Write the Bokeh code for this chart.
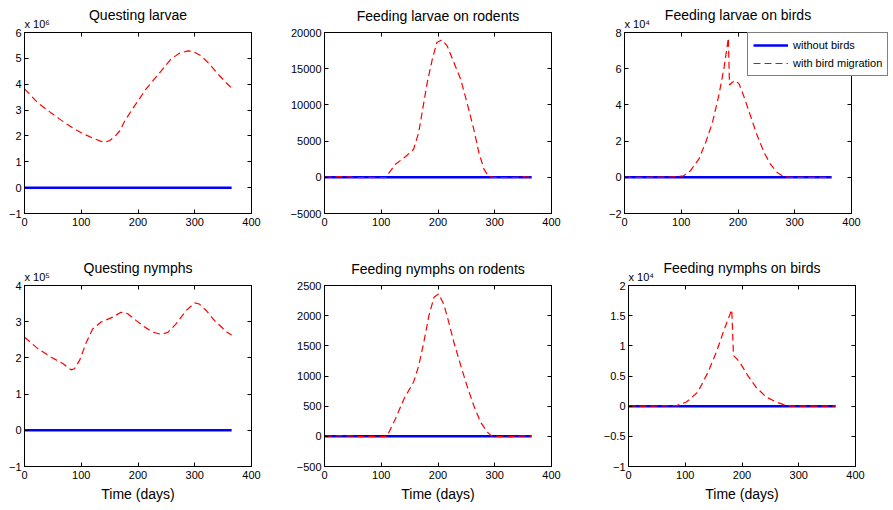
from bokeh.plotting import figure
from bokeh.layouts import column, row
from bokeh.models import (Range1d, LinearAxis, FixedTicker, Legend, LegendItem, Title,
                          CustomLabelingPolicy)
from bokeh.embed import file_html
from bokeh.resources import INLINE

FONT = "Liberation Sans"

# ---------------- data ----------------
x_ticks = [0, 100, 200, 300, 400]

blue_days = [0, 365]
blue_vals = [0, 0]

# Questing larvae (x 10^6)
ql_days = [0, 23, 44, 62, 80, 100, 120, 135, 142, 150, 160, 168, 176, 188, 202, 214, 226, 241, 258, 273, 288, 297, 311, 326, 341, 358, 365]
ql_vals = [3.82, 3.29, 2.94, 2.65, 2.38, 2.12, 1.92, 1.79, 1.76, 1.82, 2.0, 2.2, 2.55, 2.97, 3.42, 3.81, 4.13, 4.52, 4.97, 5.2, 5.29, 5.27, 5.1, 4.78, 4.39, 4.0, 3.85]

# Feeding larvae on rodents
flr_days = [0, 15, 33, 48, 63, 78, 95, 108, 125, 143, 157, 166, 172, 181, 190, 198, 207, 216, 228, 240, 251, 263, 272, 281, 289, 297, 310, 325, 340, 352, 365]
flr_vals = [0, 30, 110, 20, -50, -20, -60, 0, 1810, 2870, 3880, 6190, 8950, 13090, 16310, 18620, 18990, 18160, 15860, 13550, 10330, 6650, 3430, 1120, 110, 0, -30, -60, 10, 60, 0]

# Feeding larvae on birds (x 10^4)
flb_days = [0, 40, 85, 104, 116, 131, 143, 155, 166, 175, 181, 183, 185, 190, 196, 202, 210, 222, 234, 246, 257, 269, 281, 292, 365]
flb_vals = [0, 0, 0.02, 0.08, 0.36, 1.0, 1.92, 3.03, 4.5, 5.97, 7.26, 7.7, 5.1, 5.25, 5.35, 5.15, 4.5, 3.4, 2.29, 1.37, 0.73, 0.27, 0.04, 0, 0]

# Questing nymphs (x 10^5)
qn_days = [0, 24, 47, 68, 82, 88, 97, 109, 120, 135, 156, 170, 182, 197, 212, 226, 241, 253, 267, 285, 300, 308, 320, 335, 357, 365]
qn_vals = [2.57, 2.25, 2.02, 1.84, 1.67, 1.70, 1.93, 2.43, 2.80, 2.99, 3.13, 3.26, 3.22, 3.03, 2.85, 2.71, 2.65, 2.71, 2.94, 3.31, 3.52, 3.49, 3.31, 3.03, 2.71, 2.63]

# Feeding nymphs on rodents
fnr_days = [0, 15, 33, 50, 65, 80, 95, 110, 125, 140, 157, 166, 175, 184, 193, 201, 210, 219, 228, 240, 251, 263, 275, 287, 295, 310, 325, 340, 352, 365]
fnr_vals = [0, 3, 12, 2, -6, -2, -8, 0, 290, 620, 900, 1170, 1560, 2000, 2305, 2360, 2195, 1890, 1560, 1175, 840, 510, 235, 70, 0, -4, -8, 2, 8, 0]

# Feeding nymphs on birds (x 10^4)
fnb_days = [0, 40, 85, 102, 122, 140, 155, 169, 182, 185, 196, 210, 225, 243, 260, 275, 287, 365]
fnb_vals = [0, 0, 0.01, 0.07, 0.23, 0.56, 0.9, 1.28, 1.6, 0.84, 0.73, 0.51, 0.31, 0.15, 0.07, 0.02, 0, 0]

titles = ["Questing larvae", "Feeding larvae on rodents", "Feeding larvae on birds",
          "Questing nymphs", "Feeding nymphs on rodents", "Feeding nymphs on birds"]
exponents = ["6", None, "4", "5", None, "4"]
series_days = [ql_days, flr_days, flb_days, qn_days, fnr_days, fnb_days]
series_vals = [ql_vals, flr_vals, flb_vals, qn_vals, fnr_vals, fnb_vals]
y_ranges = [(-1, 6), (-5000, 20000), (-2, 8), (-1, 4), (-500, 2500), (-1, 2)]
y_ticks = [[-1, 0, 1, 2, 3, 4, 5, 6], [-5000, 0, 5000, 10000, 15000, 20000], [-2, 0, 2, 4, 6, 8],
           [-1, 0, 1, 2, 3, 4], [-500, 0, 500, 1000, 1500, 2000, 2500], [-1, -0.5, 0, 0.5, 1, 1.5, 2]]
legend_labels = ["without birds", "with bird migration"]

SUP = {"4": "\u2074", "5": "\u2075", "6": "\u2076"}

FRAME_W = 227
FRAME_H = 181
col_left = [24, 54, 24]
col_right = [19, 49, 42]
row_top = [32, 32]
row_bottom = [40, 44]

hide_labels = CustomLabelingPolicy(code="for (const i of [...indices]) { indices.unset(i) } return indices")


def fmt(v):
    return ("%g" % v).replace("-", "\u2212")


def make(i):
    c = i % 3
    r = i // 3
    p = figure(frame_width=FRAME_W, frame_height=FRAME_H, x_range=Range1d(0, 400),
               y_range=Range1d(*y_ranges[i]), output_backend="svg", toolbar_location=None,
               min_border_left=col_left[c], min_border_right=col_right[c],
               min_border_top=row_top[r], min_border_bottom=row_bottom[r],
               title_location=None)
    p.grid.visible = False
    p.outline_line_color = "black"
    p.outline_line_width = 1
    p.background_fill_color = "white"
    p.border_fill_color = "white"

    for ax in p.xaxis:
        ax.ticker = FixedTicker(ticks=x_ticks)
    for ax in p.yaxis:
        ax.ticker = FixedTicker(ticks=y_ticks[i])
        ax.major_label_overrides = {t: fmt(t) for t in y_ticks[i]}
    for ax in list(p.xaxis) + list(p.yaxis):
        ax.major_tick_in = 4
        ax.major_tick_out = 0
        ax.minor_tick_in = 0
        ax.minor_tick_out = 0
        ax.major_label_text_font = FONT
        ax.major_label_text_font_size = "11px"
        ax.major_label_text_color = "black"
        ax.axis_line_color = "black"
        ax.major_tick_line_color = "black"
    p.yaxis.major_label_standoff = 3
    p.xaxis.major_label_standoff = 4

    for loc, tk in (("right", y_ticks[i]), ("above", x_ticks)):
        ax = LinearAxis(ticker=FixedTicker(ticks=tk), major_label_text_font_size="1px",
                        major_label_policy=hide_labels,
                        major_label_standoff=0, major_tick_in=4, major_tick_out=0,
                        minor_tick_in=0, minor_tick_out=0, axis_line_color="black")
        p.add_layout(ax, loc)

    if r == 1:
        xa = p.below[0]
        xa.axis_label = "Time (days)"
        xa.axis_label_text_font = FONT
        xa.axis_label_text_font_size = "14px"
        xa.axis_label_text_font_style = "normal"
        xa.axis_label_text_color = "black"
        xa.axis_label_standoff = 4

    if exponents[i]:
        p.add_layout(Title(text="x 10" + SUP[exponents[i]], align="left", text_font=FONT,
                           text_font_size="11px", text_font_style="normal",
                           text_color="black", standoff=-2), "above")
        main_standoff = -13
    else:
        main_standoff = 10
    p.add_layout(Title(text=titles[i], align="center", text_font=FONT, text_font_size="14px",
                       text_font_style="normal", text_color="black", standoff=main_standoff), "above")

    p.line(blue_days, blue_vals, line_color="#0000FF", line_width=2.5)
    p.line(series_days[i], series_vals[i], line_color="#FF0000", line_width=1.2, line_dash="7 4")
    return p


figs = [make(i) for i in range(6)]

# legend box (sits over the top-right panel, reaching past its frame as in the original)
nan = float("nan")
lf = figure(width=150, height=46, x_range=Range1d(0, 1), y_range=Range1d(0, 1),
            output_backend="svg", toolbar_location=None, min_border=0,
            x_axis_location=None, y_axis_location=None, title_location=None)
lf.outline_line_color = None
lf.grid.visible = False
lf.background_fill_alpha = 0
lf.border_fill_alpha = 0
lb = lf.line([nan, nan], [nan, nan], line_color="#0000FF", line_width=2.5)
lr = lf.line([nan, nan], [nan, nan], line_color="#FF0000", line_width=1.2, line_dash="7 4")
leg = Legend(items=[LegendItem(label=legend_labels[0], renderers=[lb]),
                    LegendItem(label=legend_labels[1], renderers=[lr])],
             location="top_left")
leg.label_text_font = FONT
leg.label_text_font_size = "11px"
leg.label_text_color = "black"
leg.glyph_width = 35
leg.glyph_height = 14
leg.label_height = 14
leg.label_standoff = 5
leg.spacing = 4
leg.padding = 5
leg.margin = 0
leg.border_line_color = "black"
leg.border_line_width = 1
leg.background_fill_color = "white"
leg.background_fill_alpha = 1
lf.add_layout(leg)
lf.styles = {"position": "absolute", "left": "747px", "top": "32px", "z-index": "10"}

layout = column(row(*figs[:3], spacing=0), row(*figs[3:], spacing=0), lf, spacing=0)

open("out.html", "w").write(file_html(layout, INLINE))
